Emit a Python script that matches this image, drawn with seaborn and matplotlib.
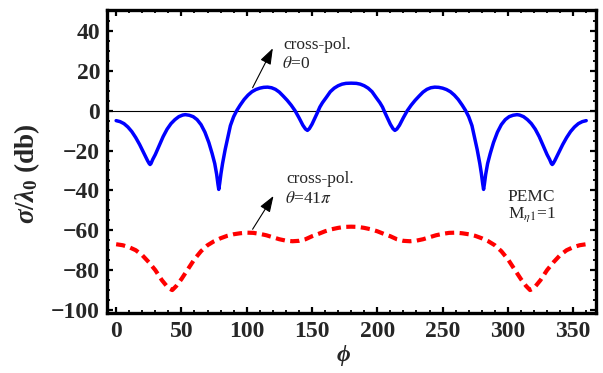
import matplotlib
matplotlib.use("Agg")
import matplotlib.pyplot as plt
from matplotlib.ticker import MultipleLocator
import seaborn as sns
import pandas as pd

# ---- data ----
phi_blue = [0, 3, 6, 9, 12, 15, 18, 21, 24, 25.3, 26, 26.7, 28, 30, 33, 36, 39, 42, 45, 48,
            51, 53, 56, 59, 62, 65, 68, 71, 73.5, 75.5, 77, 78, 78.6, 79.3, 80.3, 81.5, 83.5,
            85.5, 87.5, 90, 92.5, 95, 98, 101, 104, 107, 110, 113, 116, 119, 122, 125, 128,
            131, 134, 137, 140, 143, 145, 146.5, 148, 150, 152, 154, 156, 158, 161, 164, 167,
            170, 173, 176, 180,
            184, 187, 190, 193, 196, 199, 202, 204, 206, 208, 210, 212, 213.5, 215, 217, 220,
            223, 226, 229, 232, 235, 238, 241, 244, 247, 250, 253, 256, 259, 262, 265, 267.5,
            270, 272.5, 274.5, 276.5, 278.5, 279.7, 280.7, 281.4, 282, 283, 284.5, 286.5, 289,
            292, 295, 298, 301, 304, 307, 309, 312, 315, 318, 321, 324, 327, 330, 332, 333.3,
            334, 334.7, 336, 339, 342, 345, 348, 351, 354, 357, 360]
db_blue = [-5.0, -5.5, -6.5, -8.2, -10.5, -13.5, -17.0, -21.0, -25.0, -26.5, -27.0, -26.5,
           -24.5, -22.0, -17.5, -13.0, -9.3, -6.5, -4.5, -3.0, -2.2, -2.0, -2.3, -3.0, -4.5,
           -7.0, -10.8, -16.0, -21.5, -26.5, -32.0, -37.0, -39.5, -36.5, -31.5, -26.5, -19.5,
           -13.5, -7.5, -3.0, 0.2, 2.8, 5.6, 7.8, 9.5, 10.6, 11.3, 11.7, 11.8, 11.5, 10.7, 9.3,
           7.3, 5.2, 2.8, 0.0, -3.5, -7.3, -9.2, -9.9, -9.0, -6.8, -4.0, -1.2, 1.8, 4.0, 6.7,
           9.5, 11.3, 12.5, 13.3, 13.7, 13.8,
           13.7, 13.3, 12.5, 11.3, 9.5, 6.7, 4.0, 1.8, -1.2, -4.0, -6.8, -9.0, -9.9, -9.2,
           -7.3, -3.5, 0.0, 2.8, 5.2, 7.3, 9.3, 10.7, 11.5, 11.8, 11.7, 11.3, 10.6, 9.5, 7.8,
           5.6, 2.8, 0.2, -3.0, -7.5, -13.5, -19.5, -26.5, -31.5, -36.5, -39.5, -37.0, -32.0,
           -26.5, -21.5, -16.0, -10.8, -7.0, -4.5, -3.0, -2.3, -2.0, -2.2, -3.0, -4.5, -6.5,
           -9.3, -13.0, -17.5, -22.0, -24.5, -26.5, -27.0, -26.5, -25.0, -21.0, -17.0, -13.5,
           -10.5, -8.2, -6.5, -5.5, -5.0]

phi_red = [0, 5, 10, 15, 20, 25, 30, 35, 40, 43, 46, 50, 55, 60, 65, 70, 75, 80, 85, 90,
           95, 100, 105, 110, 115, 120, 125, 130, 135, 140, 145, 150, 155, 160, 165, 170,
           175, 180, 185, 190, 195, 200, 205, 210, 215, 220, 225, 230, 235, 240, 245, 250,
           255, 260, 265, 270, 275, 280, 285, 290, 295, 300, 305, 310, 314, 317, 320, 325,
           330, 335, 340, 345, 350, 355, 360]
db_red = [-67, -67.5, -68.5, -70, -72.5, -76, -80, -85, -89, -90, -88, -84.5, -79.5, -74.5,
          -70.5, -67.5, -65.5, -64, -62.8, -62, -61.5, -61.2, -61.3, -61.8, -62.5, -63.5,
          -64.5, -65.2, -65.5, -65.3, -64.5, -63, -61.8, -60.5, -59.5, -58.8, -58.3, -58.2,
          -58.3, -58.8, -59.5, -60.5, -61.8, -63, -64.5, -65.3, -65.5, -65.2, -64.5, -63.5,
          -62.5, -61.8, -61.3, -61.2, -61.5, -62, -62.8, -64, -65.5, -67.5, -70.5, -74.5,
          -79.5, -84.5, -88, -90, -89, -85, -80, -76, -72.5, -70, -68.5, -67.5, -67]

x_ticks = [0, 50, 100, 150, 200, 250, 300, 350]
y_ticks = [-100, -80, -60, -40, -20, 0, 20, 40]

df_blue = pd.DataFrame({"phi": phi_blue, "db": db_blue})
df_red = pd.DataFrame({"phi": phi_red, "db": db_red})

sns.set_theme(style="ticks")
plt.rcParams["font.family"] = ["Liberation Serif", "DejaVu Serif"]
plt.rcParams["mathtext.fontset"] = "custom"
plt.rcParams["mathtext.rm"] = "Liberation Serif:bold"
plt.rcParams["mathtext.it"] = "Liberation Serif:italic:bold"
plt.rcParams["mathtext.bf"] = "Liberation Serif:bold"

fig = plt.figure(figsize=(6.03, 3.73), dpi=100)
ax = fig.add_axes([107 / 603, 1 - 313 / 373, (596 - 107) / 603, (313 - 10) / 373])

ax.axhline(0, color="black", lw=0.8, zorder=1)
sns.lineplot(data=df_blue, x="phi", y="db", ax=ax, color="#0000ff", lw=2.5,
             sort=False, estimator=None, zorder=3)
sns.lineplot(data=df_red, x="phi", y="db", ax=ax, color="#ff0000", lw=3.0,
             sort=False, estimator=None, zorder=3)
ax.lines[-2].set_solid_joinstyle("round")
ax.lines[-1].set_dashes((2.2, 1.3))
ax.lines[-1].set_dash_capstyle("butt")

ax.set_xlim(-7, 367.5)
ax.set_ylim(-101.5, 50.5)
ax.set_xticks(x_ticks)
ax.set_yticks(y_ticks)
ax.xaxis.set_minor_locator(MultipleLocator(10))
ax.yaxis.set_minor_locator(MultipleLocator(5))
ax.set_xticklabels([str(v) for v in x_ticks], fontsize=17, fontweight="bold")
ax.set_yticklabels([str(v).replace("-", "\u2212") for v in y_ticks], fontsize=17,
                   fontweight="bold")
ax.tick_params(which="major", direction="in", length=4.5, width=1.6, top=True, right=True,
               pad=5, color="black")
ax.tick_params(which="minor", direction="in", length=2.5, width=1.3, top=True, right=True,
               color="black")
ax.tick_params(axis="x", which="major", pad=6)
for s in ax.spines.values():
    s.set_visible(True)
    s.set_linewidth(2.4)
    s.set_color("black")

ax.set_xlabel(r"$\phi$", fontsize=17)
ax.xaxis.set_label_coords(0.483, -0.1)
ax.set_ylabel(r"$\sigma/\lambda_0$ (db)", fontsize=19.5, fontweight="bold")
ax.yaxis.set_label_coords(-0.133, 0.46)

txt_kw = dict(fontsize=12.5, va="center", ha="left", math_fontfamily="stix")
ax.text(128, 33, "cross-pol.", **txt_kw)
ax.text(127, 23.5, r"$\theta$=0", **txt_kw)
ax.annotate("", xy=(120, 31.3), xytext=(104.5, 11.5),
            arrowprops=dict(arrowstyle="-|>,head_length=0.7,head_width=0.25",
                            color="black", lw=0.8, mutation_scale=14,
                            shrinkA=0, shrinkB=0))

ax.text(130, -34.5, "cross-pol.", **txt_kw)
ax.text(129, -44.5, r"$\theta$=41$\pi$", **txt_kw)
ax.annotate("", xy=(120.5, -42.8), xytext=(104.5, -59.5),
            arrowprops=dict(arrowstyle="-|>,head_length=0.7,head_width=0.25",
                            color="black", lw=0.8, mutation_scale=14,
                            shrinkA=0, shrinkB=0))

ax.text(300, -43.5, "PEMC", **txt_kw)
ax.text(300, -52, r"M$_{\eta1}$=1", **txt_kw)

fig.savefig("out.png", dpi=100)
